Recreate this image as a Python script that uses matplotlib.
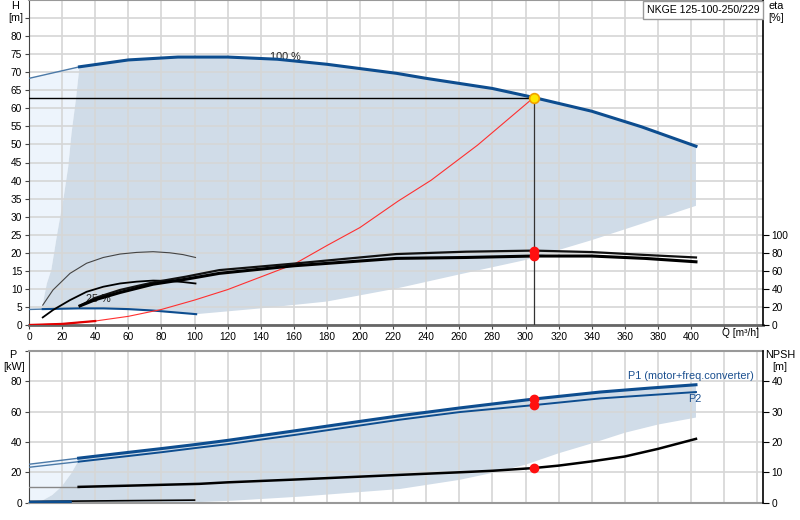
import matplotlib
matplotlib.use('Agg')
import matplotlib.pyplot as plt
import numpy as np

plt.rcParams['font.family'] = ['Liberation Sans', 'DejaVu Sans']

# ---------------- data: head chart (Q m3/h, H m) ----------------
q_max = [30.5, 60, 90, 120, 150, 180, 222, 240, 280, 305, 340, 370, 403]
h_max = [71.5, 73.4, 74.2, 74.2, 73.6, 72.2, 69.7, 68.3, 65.5, 63.0, 59.2, 54.9, 49.5]
q_max_ext = [0, 30.5]
h_max_ext = [68.3, 71.5]
q_min = [8.3, 30, 45, 60, 75, 101]
h_min = [4.4, 4.6, 4.6, 4.4, 4.0, 3.0]
q_min_ext = [0, 8.3]
h_min_ext = [4.3, 4.4]
q_edge = [8.3, 8.8, 10.8, 13.5, 17.1, 20.7, 23.7, 25.7, 28.3, 30.5]
h_edge = [4.4, 6.9, 11.5, 15.3, 25.4, 34.6, 43.8, 53.1, 62.3, 71.5]
q_low = [101, 140, 180, 222, 260, 300, 340, 370, 403]
h_low = [3.0, 4.6, 6.5, 10.1, 14.0, 18.0, 23.5, 28.0, 33.0]
q_sys = [0, 20, 40, 60, 80, 100, 120, 140, 160, 180, 200, 223, 243, 271, 305]
h_sys = [0, 0.3, 1.1, 2.4, 4.3, 6.9, 9.8, 13.3, 16.8, 22.0, 27.0, 34.3, 40.1, 49.8, 63.0]
q_op = 305
h_op = 63.0

# efficiency (%)
q_eta = [30.8, 40, 55, 75, 95, 115, 160, 222, 264, 305, 340, 372, 403]
eta_pump = [21.2, 30, 38.8, 47.2, 53.6, 60.8, 68, 78.6, 81.2, 82.4, 80.8, 77.6, 74.8]
eta_tot = [21.2, 28, 36, 45.2, 50.8, 57.2, 65.6, 73.8, 74.8, 76.4, 76.4, 73.8, 70.0]
q_eta_min = [8.3, 14.5, 24.8, 34.8, 44.9, 55, 65, 75, 85, 93, 100.6]
eta_pump_min = [22, 38.8, 57.2, 68.4, 74.8, 78.6, 80.4, 81.2, 80.0, 78.0, 74.8]
eta_tot_min = [8.4, 16.6, 27.6, 36.8, 42.4, 46.0, 48.0, 49.2, 48.8, 47.6, 46.0]
eta_op = [82.4, 76.4]

# ---------------- data: power / NPSH chart ----------------
q_p = [30, 60, 80, 100, 120, 160, 200, 224, 260, 305, 345, 375, 403]
p1 = [29.3, 33.1, 35.6, 38.2, 41.0, 47.2, 53.5, 57.2, 62.3, 68.2, 72.8, 75.4, 77.6]
p2 = [27.0, 30.7, 33.2, 35.9, 38.5, 44.5, 50.8, 54.6, 59.6, 64.2, 68.6, 70.8, 72.8]
q_p_ext = [0, 30]
p1_ext = [25.3, 29.3]
p2_ext = [23.3, 27.0]
q_pedge = [5, 8.7, 14, 19.7, 25.6, 29.6, 30]
p_pedge = [0, 1.8, 5.0, 10.6, 19.4, 27.0, 29.3]
q_plow = [5, 60, 100, 123, 164, 224, 260, 280, 300, 320, 340, 360, 380, 403]
p_plow = [0, 0.1, 0.3, 1.3, 4.0, 9.0, 15.0, 19.6, 25.0, 32.5, 39.0, 46.0, 51.4, 56.0]
q_npsh = [30, 60, 103, 120, 160, 224, 260, 280, 305, 320, 340, 360, 380, 403]
npsh = [5.2, 5.6, 6.2, 6.7, 7.6, 9.15, 10.0, 10.5, 11.4, 12.2, 13.6, 15.2, 17.7, 21.0]
q_npsh_ext = [0, 30]
npsh_ext = [5.2, 5.2]
q_pmin = [0, 100]
p_pmin = [0.8, 1.7]
q_pmin2 = [0, 25]
p_pmin2 = [0.4, 0.6]
p_op = [68.2, 64.2]
npsh_op = 11.4

h_ticks = list(range(0, 90, 5))
h_ticklabels = [str(t) if t <= 80 else '' for t in h_ticks]
q_ticks = list(range(0, 441, 20))
q_ticklabels = [str(t) if t <= 400 else '' for t in q_ticks]
eta_ticks = [0, 20, 40, 60, 80, 100]
p_ticks = [0, 20, 40, 60, 80, 100]
p_ticklabels = ['0', '20', '40', '60', '80', '']
npsh_ticks = [0, 10, 20, 30, 40]

BLUE = '#0d4d8f'
SHADE = '#d0dce8'
LIGHT = '#edf4fc'
GRID = '#d6d6d6'
FS = 7.3

fig = plt.figure(figsize=(8, 5.2), dpi=100)

# ================= top chart =================
ax = fig.add_axes([29/800, 195/520, 734/800, 325/520])
ax.set_xlim(0, 443.5)
ax.set_ylim(0, 90)
ax.set_axisbelow(True)

lq = [0, 0, 30.5] + q_edge[::-1] + q_min_ext[::-1]
lh = [4.3, 68.3, 71.5] + h_edge[::-1] + h_min_ext[::-1]
ax.fill(lq, lh, color=LIGHT, lw=0, zorder=0.2)
sq = q_edge + q_max + [403] + q_low[::-1] + q_min[::-1]
sh = h_edge + h_max + [33.0] + h_low[::-1] + h_min[::-1]
ax.fill(sq, sh, color=SHADE, lw=0, zorder=0.3)

ax.grid(True, color=GRID, lw=1.2)
ax.set_xticks(q_ticks)
ax.set_xticklabels(q_ticklabels)
ax.set_yticks(h_ticks)
ax.set_yticklabels(h_ticklabels)
ax.tick_params(labelsize=FS, length=3, width=0.8, color='#444', pad=2)

ax.plot(q_max_ext, h_max_ext, color='#4c7aa8', lw=1.0, zorder=3)
ax.plot(q_max, h_max, color=BLUE, lw=2.2, zorder=3)
ax.plot(q_min_ext, h_min_ext, color='#4c7aa8', lw=1.0, zorder=3)
ax.plot(q_min, h_min, color=BLUE, lw=1.5, zorder=3)
ax.plot(q_sys, h_sys, color='#ff3030', lw=0.8, zorder=3)
ax.plot(q_sys[:3], h_sys[:3], color='#e00000', lw=1.6, zorder=3)
ax.plot([0, q_op], [h_op, h_op], color='black', lw=1.0, zorder=3)
ax.plot([q_op, q_op], [0, h_op], color='#333', lw=0.9, zorder=3)
ax.text(155, 74.2, '100 %', fontsize=FS+0.5, ha='center', va='center', color='#222', zorder=2.5)
ax.text(42, 7.1, '25 %', fontsize=FS+0.5, ha='center', va='center', color='#222', zorder=2.5)
ax.plot([q_op], [h_op], 'o', ms=7, mfc='#ffe800', mec='#f0a000', mew=1.2, zorder=6)

ax.spines['top'].set_color('#999')
ax.spines['top'].set_linewidth(1.5)
ax.spines['left'].set_color('#444')
ax.spines['bottom'].set_color('#666')
ax.spines['bottom'].set_linewidth(2)
ax.spines['right'].set_visible(False)

ax2 = ax.twinx()
ax2.set_ylim(0, 360)
ax2.set_yticks(eta_ticks)
ax2.tick_params(labelsize=FS, length=4, width=0.8, color='black', pad=2)
for s in ['left', 'top', 'bottom']:
    ax2.spines[s].set_visible(False)
ax2.spines['right'].set_color('black')
ax2.spines['right'].set_linewidth(1.2)
ax2.plot(q_eta_min, eta_pump_min, color='#444', lw=0.8)
ax2.plot(q_eta_min, eta_tot_min, color='black', lw=1.3)
ax2.plot(q_eta, eta_pump, color='#111', lw=1.6)
ax2.plot(q_eta, eta_tot, color='black', lw=2.2)
ax2.plot([q_op, q_op], eta_op, 'o', ms=6, color='#ff1010', zorder=6)

fig.text(15/800, 1-6/520, 'H', fontsize=FS+0.5, ha='center', va='center')
fig.text(16/800, 1-18/520, '[m]', fontsize=FS+0.5, ha='center', va='center')
fig.text(776/800, 1-6/520, 'eta', fontsize=FS+0.5, ha='center', va='center')
fig.text(776/800, 1-18/520, '[%]', fontsize=FS+0.5, ha='center', va='center')
fig.text(740/800, 1-333/520, 'Q [m³/h]', fontsize=FS, ha='center', va='center')
fig.text(703/800, 1-10/520, 'NKGE 125-100-250/229', fontsize=FS+0.3, ha='center', va='center',
         bbox=dict(boxstyle='square,pad=0.35', fc='white', ec='#999', lw=1))

# ================= bottom chart =================
axb = fig.add_axes([29/800, 17.3/520, 734/800, 152/520])
axb.set_xlim(0, 443.5)
axb.set_ylim(0, 100)
axb.set_axisbelow(True)

blq = [0, 0, 30] + q_pedge[::-1]
blp = [0, 25.3, 29.3] + p_pedge[::-1]
axb.fill(blq, blp, color=LIGHT, lw=0, zorder=0.2)
bsq = q_pedge + q_p + [403] + q_plow[::-1]
bsp = p_pedge + p1 + [56.0] + p_plow[::-1]
axb.fill(bsq, bsp, color=SHADE, lw=0, zorder=0.3)

axb.grid(True, color=GRID, lw=1.2)
axb.set_xticks(q_ticks)
axb.set_xticklabels([])
axb.set_yticks(p_ticks)
axb.set_yticklabels(p_ticklabels)
axb.tick_params(axis='y', labelsize=FS, length=3, width=0.8, color='#444', pad=2)
axb.tick_params(axis='x', length=0)

axb.plot(q_p_ext, p1_ext, color='#4c7aa8', lw=1.0, zorder=3)
axb.plot(q_p_ext, p2_ext, color='#4c7aa8', lw=1.0, zorder=3)
axb.plot(q_p, p1, color=BLUE, lw=2.2, zorder=3)
axb.plot(q_p, p2, color=BLUE, lw=1.4, zorder=3)
axb.plot(q_pmin, p_pmin, color='black', lw=1.2, zorder=3)
axb.plot(q_pmin2, p_pmin2, color=BLUE, lw=2.0, zorder=3)
axb.plot([q_op, q_op], p_op, 'o', ms=6, color='#ff1010', zorder=6)
axb.text(438, 83.1, 'P1 (motor+freq.converter)', fontsize=FS+0.5, color='#1a4f8f',
         ha='right', va='center')
axb.text(402.5, 68.4, 'P2', fontsize=FS+0.5, color='#1a4f8f', ha='center', va='center')

axb.spines['top'].set_color('#999')
axb.spines['top'].set_linewidth(1.5)
axb.spines['bottom'].set_color('#999')
axb.spines['bottom'].set_linewidth(1.5)
axb.spines['left'].set_color('#444')
axb.spines['right'].set_visible(False)

axb2 = axb.twinx()
axb2.set_ylim(0, 50)
axb2.set_yticks(npsh_ticks)
axb2.tick_params(labelsize=FS, length=4, width=0.8, color='black', pad=2)
for s in ['left', 'top', 'bottom']:
    axb2.spines[s].set_visible(False)
axb2.spines['right'].set_color('black')
axb2.spines['right'].set_linewidth(1.2)
axb2.plot(q_npsh_ext, npsh_ext, color='#888', lw=1.0)
axb2.plot(q_npsh, npsh, color='black', lw=1.8)
axb2.plot([q_op], [npsh_op], 'o', ms=6, color='#ff1010', zorder=6)

fig.text(13/800, 1-355/520, 'P', fontsize=FS+0.5, ha='center', va='center')
fig.text(14/800, 1-367/520, '[kW]', fontsize=FS+0.5, ha='center', va='center')
fig.text(780/800, 1-355/520, 'NPSH', fontsize=FS+0.5, ha='center', va='center')
fig.text(780/800, 1-367/520, '[m]', fontsize=FS+0.5, ha='center', va='center')

fig.savefig('out.png', dpi=100)
